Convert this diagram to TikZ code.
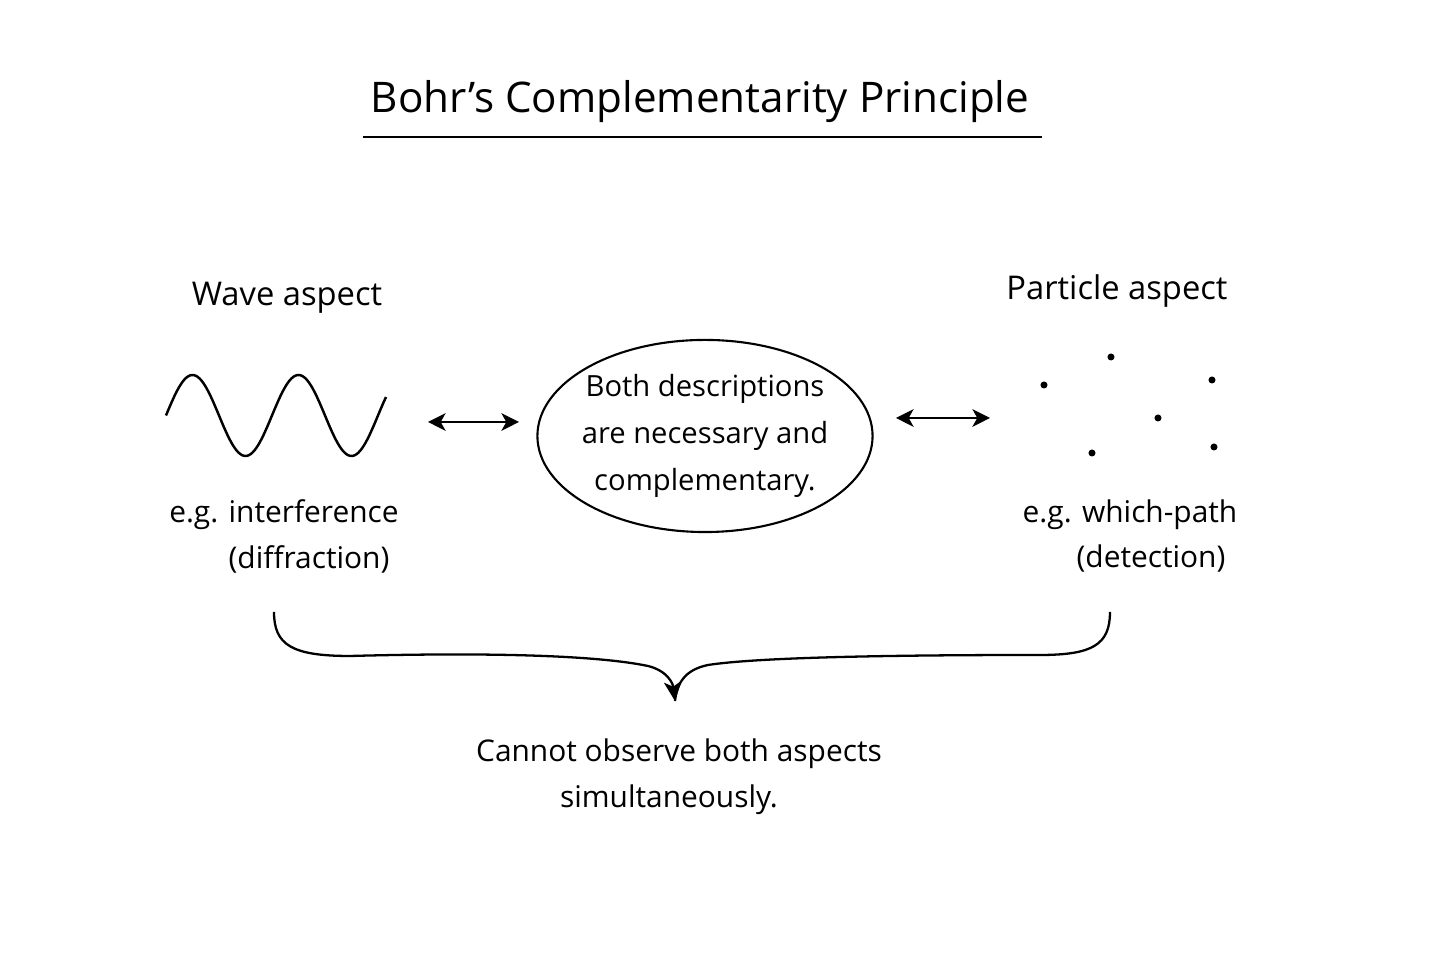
\documentclass[tikz,border=0pt]{standalone}
\usepackage{fontspec}
\setmainfont{Open Sans}
\usetikzlibrary{shapes,arrows.meta,positioning,calc}

\begin{document}
\begin{tikzpicture}[x=0.01cm, y=-0.01cm,
    txt/.style={font=\fontsize{8.5}{13.3}\selectfont, inner sep=0pt},
    head/.style={font=\fontsize{9.3}{11}\selectfont, inner sep=0pt},
    dblarrow/.style={{Stealth[length=5pt, width=5pt, inset=1.4pt]}-{Stealth[length=5pt, width=5pt, inset=1.4pt]}, line width=0.65pt},
    pdot/.style={circle, fill, inner sep=0pt, minimum size=2pt}]
    \useasboundingbox (0,0) rectangle (1456,971);

    % Title
    \node[inner sep=0pt, font=\fontsize{12}{14}\selectfont] (title) at (700,102) {Bohr's Complementarity Principle};
    \draw[line width=0.6pt] (363,137) -- (1042,137);

    % Wave side
    \node[head] (wavehead) at (287,298) {Wave aspect};
    \draw[line width=0.7pt] plot[domain=166:386, samples=120] (\x, {415.5 - 40.5*sin((\x-166)/106*360)});
    \node[txt] (interf) at (284,515) {e.g. interference};
    \node[txt] (diffr) at (309,559) {(diffraction)};

    % Centre ellipse
    \node[ellipse, draw, line width=0.6pt, inner sep=0pt, minimum width=3.35cm, minimum height=1.92cm] (both) at (705,436) {};
    \node[txt, font=\fontsize{8.3}{13.3}\selectfont, align=center] (bothtxt) at (both.center) {Both descriptions\\are necessary and\\complementary.};

    % Arrows either side
    \coordinate (la1) at (428,422);
    \coordinate (la2) at (519,422);
    \draw[dblarrow] (la1) -- (la2);
    \coordinate (ra1) at (896,418);
    \coordinate (ra2) at (990,418);
    \draw[dblarrow] (ra1) -- (ra2);

    % Particle side
    \node[head] (parthead) at (1117,291) {Particle aspect};
    \foreach \p/\q in {1044/385, 1111/357, 1212/380, 1158/418, 1092/453, 1214/447}
        \node[pdot] at (\p,\q) {};
    \node[txt] (which) at (1130,515) {e.g. which-path};
    \node[txt] (detect) at (1151,559) {(detection)};

    % Brace down to conclusion
    \coordinate (bl) at (274,612);
    \coordinate (br) at (1110,612);
    \coordinate (btip) at (675,701);
    \draw[line width=0.65pt, -{Stealth[length=5.5pt, width=5pt, inset=1.4pt]}] (bl) .. controls (274,645) and (292,656) .. (350,656)
        .. controls (500,652) and (600,656) .. (648,666) .. controls (668,671) and (673,684) .. (btip);
    \draw[line width=0.65pt] (br) .. controls (1110,645) and (1092,655) .. (1040,655)
        .. controls (900,655) and (760,657) .. (708,665) .. controls (684,670) and (677,684) .. (btip);

    \node[txt] (concl) at (679,754) {Cannot observe both aspects};
    \node[txt] (concl2) at (669,800) {simultaneously.};
\end{tikzpicture}
\end{document}
